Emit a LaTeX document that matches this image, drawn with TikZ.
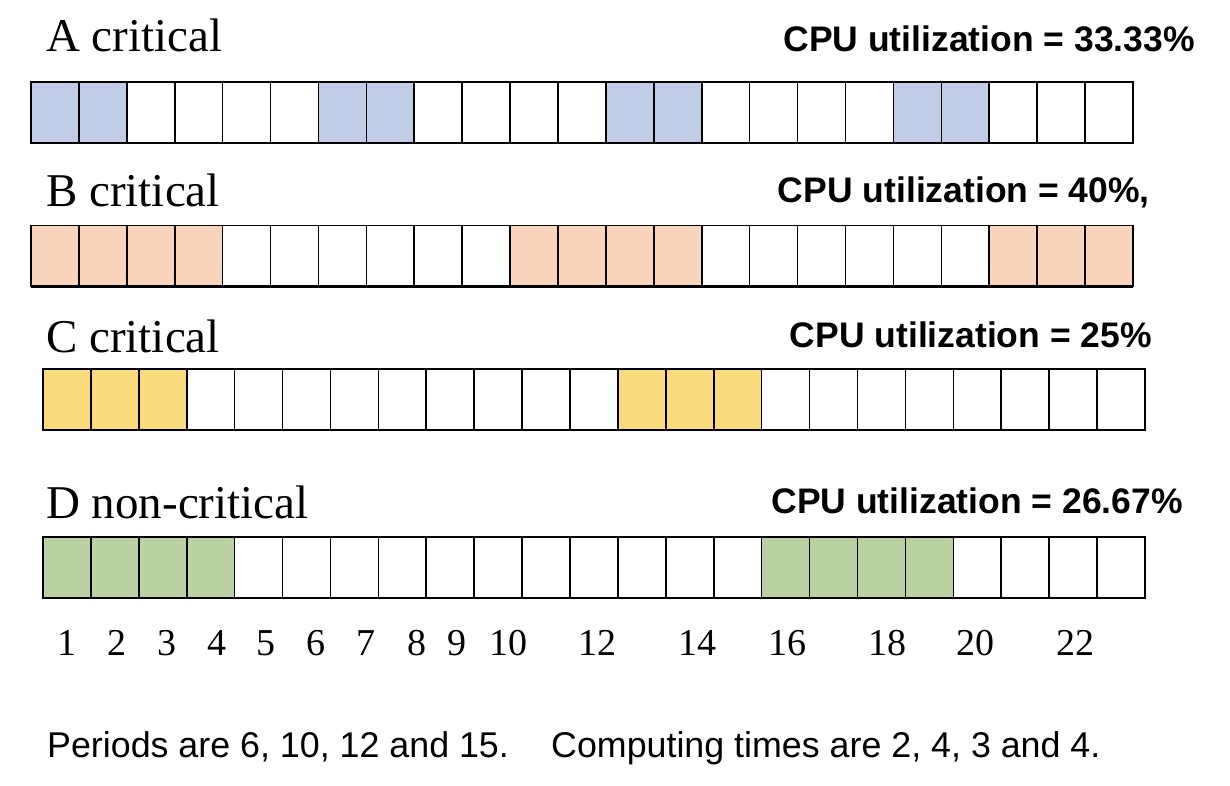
\documentclass[tikz,border=0pt]{standalone}
\usepackage{fontspec}
\setmainfont{Liberation Serif}
\newfontfamily\arialfont{Liberation Sans}
\definecolor{cA}{RGB}{193,205,230}
\definecolor{cB}{RGB}{247,212,187}
\definecolor{cC}{RGB}{249,218,124}
\definecolor{cD}{RGB}{186,210,161}
\begin{document}
\begin{tikzpicture}[x=1pt,y=-1pt,
  cell/.style={draw=black, line width=1.6pt, minimum width=47.91pt, minimum height=61pt, inner sep=0pt, outer sep=0pt},
  lbl/.style={font=\fontsize{47}{52}\selectfont, anchor=base west, inner sep=0pt},
  util/.style={font=\arialfont\bfseries\fontsize{35.5}{40}\selectfont, anchor=base east, inner sep=0pt},
  num/.style={font=\fontsize{38}{40}\selectfont, anchor=base, inner sep=0pt},
  note/.style={font=\arialfont\fontsize{35.8}{40}\selectfont, anchor=base west, inner sep=0pt}]
\useasboundingbox (0,0) rectangle (1230,786);
\fill[white] (0,0) rectangle (1230,786);
\foreach \r/\x/\yt/\per/\c/\col in {A/31/82/6/2/cA, B/31/225.5/10/4/cB, C/43/369/12/3/cC, D/43/537/15/4/cD}{
  \foreach \i in {1,...,23}{
    \pgfmathtruncatemacro\on{mod(\i-1,\per)<\c ? 1 : 0}
    \ifnum\on=1 \def\f{\col}\else\def\f{white}\fi
    \node[cell, fill=\f] (\r\i) at ({\x+(\i-0.5)*47.91}, {\yt+30.5}) {};
  }
  \draw[line width=2.8pt] (\r1.south west) -- (\r23.south east);
}
\node[lbl] (labA) at (46,52) {A critical};
\node[lbl] (labB) at (46,207) {B critical};
\node[lbl] (labC) at (46,352) {C critical};
\node[lbl] (labD) at (46,518) {D non-critical};
\node[util] (uA) at (1195,52) {CPU utilization = 33.33\%};
\node[util] (uB) at (1150,203) {CPU utilization = 40\%,};
\node[util] (uC) at (1152,347) {CPU utilization = 25\%};
\node[util] (uD) at (1183,513) {CPU utilization = 26.67\%};
\foreach \n/\px in {1/67,2/117,3/167,4/217,5/266,6/316,7/366,8/417,9/457,10/508,12/597,14/697,16/787,18/887,20/975,22/1075}{
  \node[num] (n\n) at (\px,655) {\n};
}
\node[note] (per) at (47,757) {Periods are 6, 10, 12 and 15.};
\node[note] (cmp) at (551,757) {Computing times are 2, 4, 3 and 4.};
\end{tikzpicture}
\end{document}
